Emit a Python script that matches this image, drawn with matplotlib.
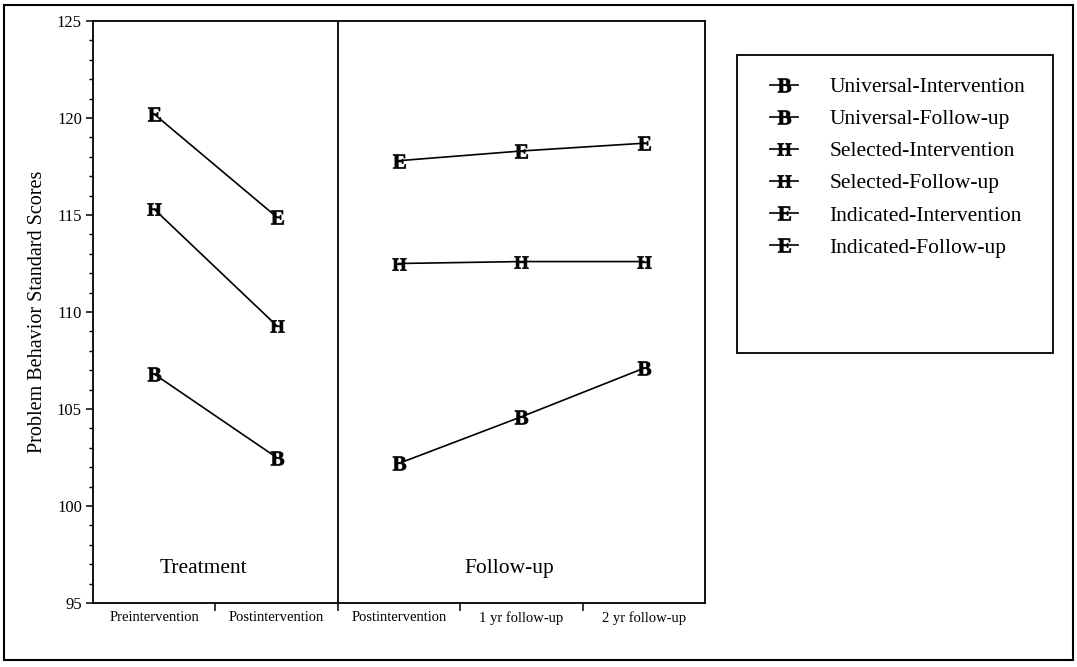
import numpy as np
import matplotlib
matplotlib.use("Agg")
import matplotlib.pyplot as plt
from matplotlib.patches import Rectangle
from matplotlib.ticker import MultipleLocator, FixedLocator

plt.rcParams['font.family'] = ['Liberation Serif', 'DejaVu Serif']
plt.rcParams['mathtext.fontset'] = 'custom'
plt.rcParams['mathtext.bf'] = 'Liberation Serif:bold'
plt.rcParams['mathtext.rm'] = 'Liberation Serif'

# categories on the x axis
categories = ['Preintervention', 'Postintervention', 'Postintervention',
              '1 yr follow-up', '2 yr follow-up']

# treatment phase (first two categories)
universal_int = [106.8, 102.5]
selected_int = [115.3, 109.3]
indicated_int = [120.2, 114.9]

# follow-up phase (last three categories)
universal_fu = [102.2, 104.6, 107.1]
selected_fu = [112.5, 112.6, 112.6]
indicated_fu = [117.8, 118.3, 118.7]

series = [
    ('Universal-Intervention', universal_int, 'B', 'int'),
    ('Universal-Follow-up', universal_fu, 'B', 'fu'),
    ('Selected-Intervention', selected_int, 'H', 'int'),
    ('Selected-Follow-up', selected_fu, 'H', 'fu'),
    ('Indicated-Intervention', indicated_int, 'E', 'int'),
    ('Indicated-Follow-up', indicated_fu, 'E', 'fu'),
]

fig = plt.figure(figsize=(10.77, 6.67), dpi=100)
ax = fig.add_axes([93 / 1077, 64 / 667, 612 / 1077, 582 / 667])

x_int = np.arange(2)
x_fu = np.arange(2, 5)
handles = []
for name, vals, letter, phase in series:
    xs = x_int if phase == 'int' else x_fu
    h, = ax.plot(xs, vals, color='black', lw=1.2,
                 marker=r'$\mathbf{%s}$' % letter, markersize=10,
                 markeredgewidth=0.5, label=name)
    handles.append(h)

ax.axvline(1.5, color='black', lw=1.3)

ax.set_xlim(-0.5, 4.5)
ax.set_ylim(95, 125)
ax.yaxis.set_major_locator(MultipleLocator(5))
ax.yaxis.set_minor_locator(MultipleLocator(1))
ax.tick_params(axis='y', which='major', direction='out', length=5, width=1.1,
               labelsize=12, pad=3)
ax.tick_params(axis='y', which='minor', direction='out', length=3, width=1.0)

ax.xaxis.set_major_locator(FixedLocator([0.5, 1.5, 2.5, 3.5]))
ax.xaxis.set_major_formatter(plt.NullFormatter())
ax.xaxis.set_minor_locator(FixedLocator(np.arange(5)))
ax.set_xticklabels(categories, minor=True)
ax.tick_params(axis='x', which='major', direction='out', length=6, width=1.1)
ax.tick_params(axis='x', which='minor', length=0, labelsize=10.5, pad=6)

for sp in ax.spines.values():
    sp.set_linewidth(1.3)

ax.set_ylabel('Problem Behavior Standard Scores', fontsize=14.5, labelpad=7)

ax.text(0.4, 96.8, 'Treatment', fontsize=15.5, ha='center', va='center')
ax.text(2.9, 96.8, 'Follow-up', fontsize=15.5, ha='center', va='center')

# legend with its own square frame
fig.patches.append(Rectangle((737 / 1077, 1 - 353 / 667), 316 / 1077, 298 / 667,
                             transform=fig.transFigure, fill=False,
                             edgecolor='black', lw=1.3))
fig.legend(handles=handles, loc='upper left',
           bbox_to_anchor=(770 / 1077, 1 - 77 / 667), frameon=False,
           fontsize=15.5, handlelength=1.3, handletextpad=1.45,
           labelspacing=0.56, borderpad=0, borderaxespad=0)

# outer frame around the whole figure
fig.patches.append(Rectangle((4 / 1077, 1 - 660 / 667), 1069 / 1077, 655 / 667,
                             transform=fig.transFigure, fill=False,
                             edgecolor='black', lw=1.5))

fig.savefig('out.png', dpi=100)
